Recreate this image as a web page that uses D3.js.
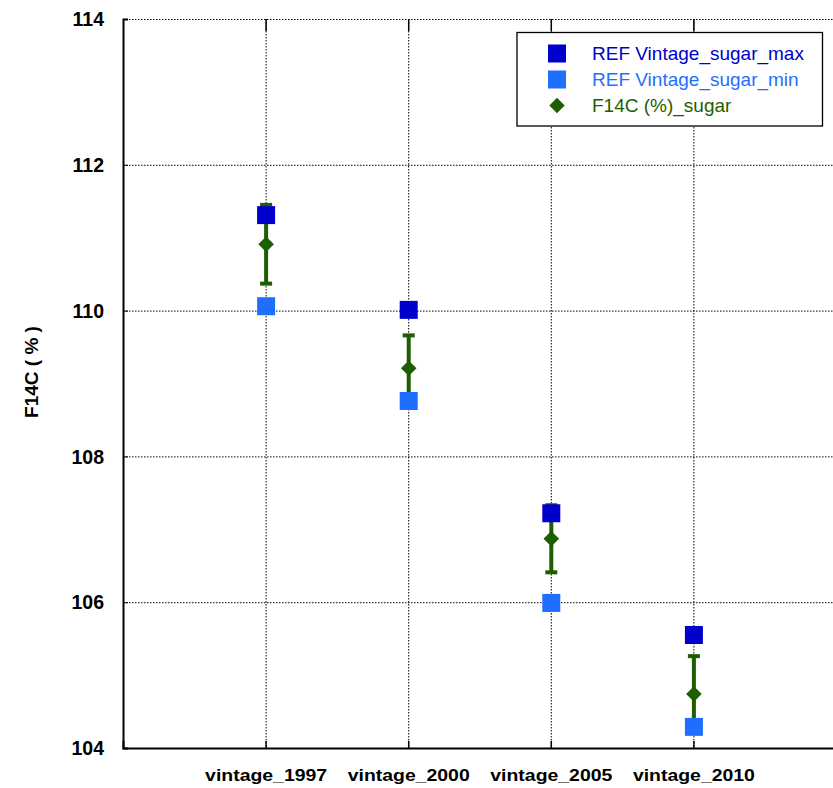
<!DOCTYPE html>
<html>
<head>
<meta charset="utf-8">
<script src="https://cdn.jsdelivr.net/npm/d3@7"></script>
<style>
  html, body { margin: 0; padding: 0; background: #fff; }
  svg { display: block; font-family: "Liberation Sans", Arial, sans-serif; }
</style>
</head>
<body>
<svg id="chart" width="833" height="788"></svg>
<script>
// Samples and measured values
const categories = ["vintage_1997", "vintage_2000", "vintage_2005", "vintage_2010"];
const refMax = [111.31, 110.01, 107.22, 105.55];
const refMin = [110.06, 108.76, 105.99, 104.29];
const f14c = [110.91, 109.21, 106.87, 104.74];
const f14cErr = [0.54, 0.45, 0.46, 0.52];
const yTicks = [104, 106, 108, 110, 112, 114];
const seriesNames = ["REF Vintage_sugar_max", "REF Vintage_sugar_min", "F14C (%)_sugar"];
const colors = ["#0000cc", "#1f6fff", "#1e5e00"];

const svg = d3.select("#chart");
const plotLeft = 123, plotRight = 836, plotTop = 19, plotBottom = 748;

const x = d3.scaleLinear().domain([0, categories.length + 1]).range([plotLeft, plotRight]);
const y = d3.scaleLinear().domain([104, 114]).range([plotBottom, plotTop]);

// dotted grid
const grid = svg.append("g").attr("stroke", "#000").attr("stroke-width", 1)
  .attr("stroke-dasharray", "1.5,1.5");
grid.selectAll("line.h").data(yTicks.filter(v => v > 104)).join("line")
  .attr("class", "h")
  .attr("x1", plotLeft).attr("x2", plotRight)
  .attr("y1", d => y(d) + 0.5).attr("y2", d => y(d) + 0.5);
grid.selectAll("line.v").data(categories).join("line")
  .attr("class", "v")
  .attr("x1", (d, i) => x(i + 1) + 0.5).attr("x2", (d, i) => x(i + 1) + 0.5)
  .attr("y1", plotTop).attr("y2", plotBottom);

// short solid ticks hanging from the top edge
svg.append("g").selectAll("line").data(categories).join("line")
  .attr("x1", (d, i) => x(i + 1) + 0.5).attr("x2", (d, i) => x(i + 1) + 0.5)
  .attr("y1", plotTop).attr("y2", plotTop + 12)
  .attr("stroke", "#000").attr("stroke-width", 1.5);

// axes
const yAxis = svg.append("g").attr("transform", `translate(${plotLeft},0)`)
  .call(d3.axisLeft(y).tickValues(yTicks).tickSize(-5).tickPadding(19).tickFormat(d3.format("d")));
yAxis.select(".domain").attr("stroke-width", 2);
yAxis.selectAll(".tick text").attr("font-size", 19.5).attr("font-weight", "bold").attr("fill", "#000")
  .attr("dy", "0.34em");

const xAxis = svg.append("g").attr("transform", `translate(0,${plotBottom})`)
  .call(d3.axisBottom(x).tickValues(categories.map((d, i) => i + 1)).tickSize(-7).tickPadding(21)
    .tickFormat(d => categories[d - 1]));
xAxis.select(".domain").attr("stroke-width", 2);
xAxis.selectAll(".tick line").attr("stroke-width", 1.5);
xAxis.selectAll(".tick text").attr("font-size", 17).attr("font-weight", "bold").attr("fill", "#000")
  .attr("textLength", 122).attr("lengthAdjust", "spacingAndGlyphs");

// axis title
svg.append("text")
  .attr("transform", `translate(38,372) rotate(-90)`)
  .attr("text-anchor", "middle")
  .attr("font-size", 19).attr("font-weight", "bold")
  .text("F14C ( % )");

// error bars
const eb = svg.append("g").attr("stroke", colors[2]).attr("stroke-width", 4);
categories.forEach((c, i) => {
  const cx = x(i + 1) + 0.5;
  eb.append("line").attr("x1", cx).attr("x2", cx)
    .attr("y1", y(f14c[i] + f14cErr[i])).attr("y2", y(f14c[i] - f14cErr[i]));
  [f14c[i] + f14cErr[i], f14c[i] - f14cErr[i]].forEach(v => {
    eb.append("line").attr("x1", cx - 6).attr("x2", cx + 6)
      .attr("y1", y(v)).attr("y2", y(v));
  });
});

// square markers
const sq = 18;
[refMax, refMin].forEach((vals, k) => {
  svg.append("g").selectAll("rect").data(vals).join("rect")
    .attr("x", (d, i) => x(i + 1) + 0.5 - sq / 2)
    .attr("y", d => y(d) - sq / 2)
    .attr("width", sq).attr("height", sq)
    .attr("fill", colors[k]);
});

// diamond markers
const diamond = d3.symbol().type(d3.symbolDiamond2).size(155);
svg.append("g").selectAll("path").data(f14c).join("path")
  .attr("transform", (d, i) => `translate(${x(i + 1) + 0.5},${y(d)})`)
  .attr("d", diamond)
  .attr("fill", colors[2]);

// legend
const lg = svg.append("g");
lg.append("rect").attr("x", 517).attr("y", 32.5).attr("width", 305.5).attr("height", 93.5)
  .attr("fill", "#fff").attr("stroke", "#000").attr("stroke-width", 1.3);
seriesNames.forEach((name, k) => {
  const cy = 53.5 + k * 26;
  if (k < 2) {
    lg.append("rect").attr("x", 548).attr("y", cy - 9).attr("width", 18).attr("height", 18)
      .attr("fill", colors[k]);
  } else {
    lg.append("path").attr("transform", `translate(557,${cy})`)
      .attr("d", d3.symbol().type(d3.symbolDiamond2).size(150)).attr("fill", colors[k]);
  }
  lg.append("text").attr("x", 592).attr("y", cy + 6.5)
    .attr("font-size", 19).attr("fill", colors[k]).text(name);
});
</script>
</body>
</html>
